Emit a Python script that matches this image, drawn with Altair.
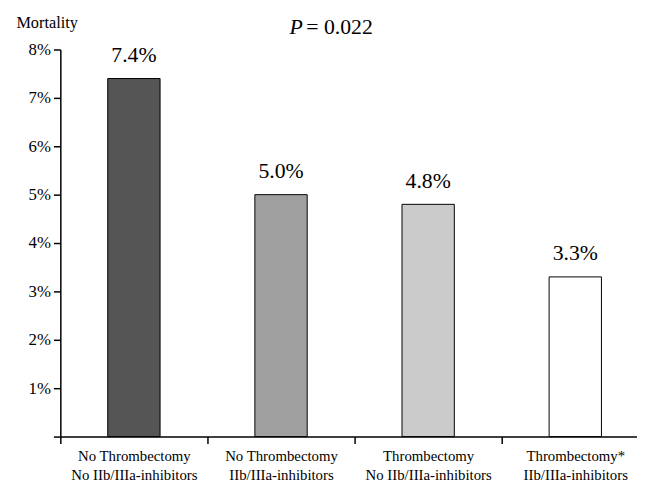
import altair as alt
import pandas as pd

categories = [
    "No Thrombectomy|No IIb/IIIa-inhibitors",
    "No Thrombectomy|IIb/IIIa-inhibitors",
    "Thrombectomy|No IIb/IIIa-inhibitors",
    "Thrombectomy*|IIb/IIIa-inhibitors",
]
mortality = [7.4, 5.0, 4.8, 3.3]
value_labels = ["7.4%", "5.0%", "4.8%", "3.3%"]
bar_colors = ["#555555", "#a0a0a0", "#cbcbcb", "#ffffff"]
y_ticks = [0, 1, 2, 3, 4, 5, 6, 7, 8]
p_symbol = ["P"]
p_rest = ["= 0.022"]

FONT = "Liberation Serif"

df = pd.DataFrame({"cat": categories, "val": mortality, "lab": value_labels})

x = alt.X(
    "cat:N",
    sort=categories,
    scale=alt.Scale(range=[0, 596], paddingInner=0, paddingOuter=0),
    axis=alt.Axis(
        title=None,
        labelAngle=0,
        labelExpr="split(datum.label, '|')",
        labelFont=FONT,
        labelFontSize=15,
        labelLineHeight=19,
        labelColor="black",
        labelPadding=5,
        tickBand="extent",
        tickSize=7,
        tickColor="black",
        tickWidth=1.5,
        domainColor="black",
        domainWidth=1.5,
        labelBaseline="top",
    ),
)

y = alt.Y(
    "val:Q",
    scale=alt.Scale(domain=[0, 8], nice=False),
    axis=alt.Axis(
        values=y_ticks,
        labelExpr="datum.value == 0 ? '' : datum.value + '%'",
        labelFont=FONT,
        labelFontSize=17,
        labelColor="black",
        labelPadding=3,
        tickSize=7,
        tickColor="black",
        tickWidth=1.5,
        domainColor="black",
        domainWidth=1.5,
        grid=False,
        title="Mortality",
        titleAngle=0,
        titleAlign="left",
        titleBaseline="alphabetic",
        titleX=-45,
        titleY=-22,
        titleFont=FONT,
        titleFontSize=16.5,
        titleFontWeight="normal",
        titleColor="black",
    ),
)

bars = alt.Chart(df).mark_bar(width=53, stroke="black", strokeWidth=1).encode(
    x=x,
    y=y,
    color=alt.Color(
        "cat:N",
        scale=alt.Scale(domain=categories, range=bar_colors),
        legend=None,
    ),
)

texts = alt.Chart(df).mark_text(
    dy=-17, baseline="alphabetic", font=FONT, fontSize=22, color="black"
).encode(x=alt.X("cat:N", sort=categories), y="val:Q", text="lab:N")

p1 = alt.Chart(pd.DataFrame({"t": p_symbol})).mark_text(
    font=FONT, fontSize=22, fontStyle="italic", align="left",
    baseline="alphabetic", color="black"
).encode(text="t:N", x=alt.value(232), y=alt.value(-16))

p2 = alt.Chart(pd.DataFrame({"t": p_rest})).mark_text(
    font=FONT, fontSize=22, align="left", baseline="alphabetic", color="black"
).encode(text="t:N", x=alt.value(249), y=alt.value(-16))

chart = (
    alt.layer(bars, texts, p1, p2)
    .properties(
        width=584,
        height=392,
        autosize=alt.AutoSizeParams(type="none"),
        padding={"left": 53, "top": 39, "right": 0, "bottom": 45},
        background="white",
    )
    .configure_view(stroke=None)
)

chart.save("out.html", embed_options={"renderer": "svg", "actions": False})
